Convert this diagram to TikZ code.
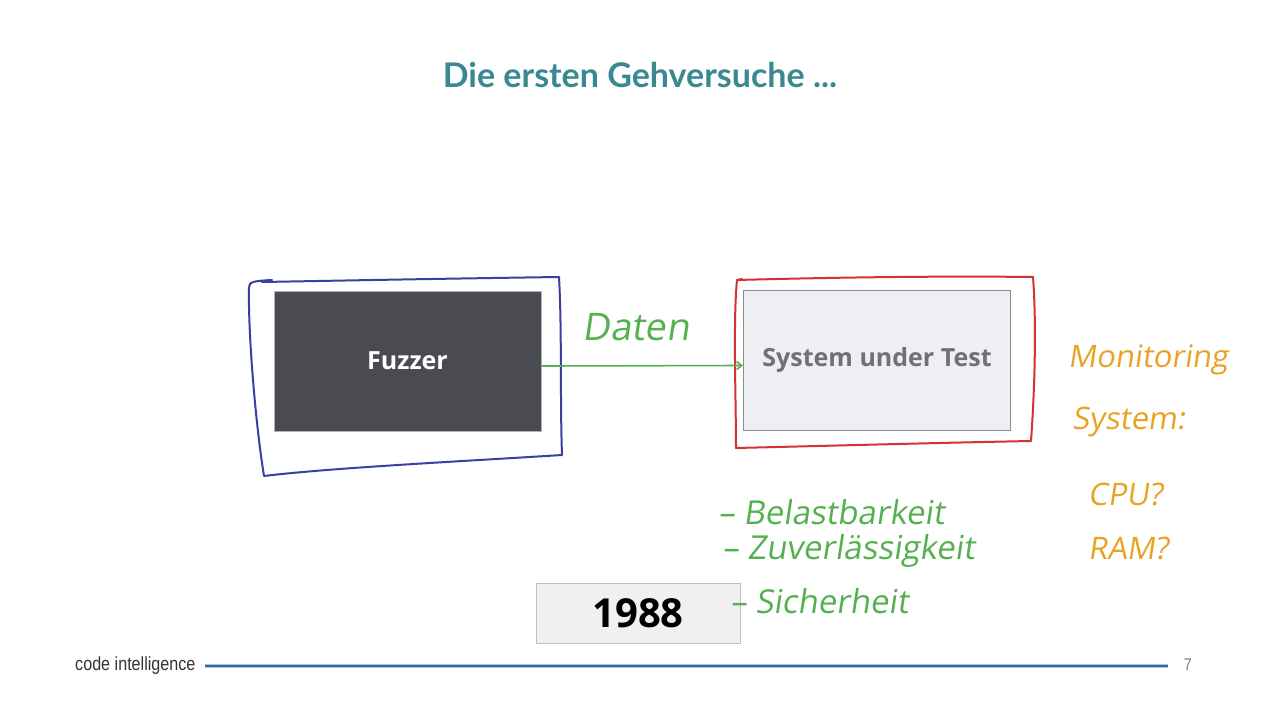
\documentclass[tikz,border=0pt]{standalone}
\usepackage{fontspec}
\setmainfont{Open Sans}
\newfontfamily\titlefont{Lato}
\newfontfamily\handfont[FakeSlant=0.15]{Open Sans}
\newfontfamily\footfont[FakeStretch=0.85]{Liberation Sans}
\usetikzlibrary{arrows.meta}

\definecolor{titleteal}{HTML}{3A8892}
\definecolor{fuzzgrey}{HTML}{4A4B50}
\definecolor{sutfill}{HTML}{EEEFF2}
\definecolor{suttext}{HTML}{707174}
\definecolor{penblue}{HTML}{3A3FA3}
\definecolor{penred}{HTML}{D62F34}
\definecolor{pengreen}{HTML}{55B04F}
\definecolor{penorange}{HTML}{E9A224}
\definecolor{footblue}{HTML}{2C6CA6}

\tikzset{
    block/.style={draw, rectangle, minimum width=267pt, minimum height=140pt,
        line width=1pt, font=\fontsize{25}{28}\selectfont\bfseries},
    pen/.style={line width=2pt, line join=round, line cap=round},
    hand/.style={font=\handfont\fontsize{33}{36}\selectfont, anchor=west, inner sep=0pt},
}

\begin{document}
\begin{tikzpicture}[x=1pt,y=-1pt]
    \useasboundingbox (0,0) rectangle (1280,720);
    \fill[white] (0,0) rectangle (1280,720);

    \node[text=titleteal, font=\titlefont\fontsize{34}{36}\selectfont\bfseries] (title) at (640,75) {Die ersten Gehversuche ...};

    \node[block, fill=fuzzgrey, draw=gray!60, text=white] (fuzzer) at (407.5,361) {Fuzzer};
    \node[block, fill=sutfill, draw=gray!90, text=suttext] (sut) at (877,360.5) {System under Test};
    \node[draw=gray!50, fill=gray!12, minimum width=204pt, minimum height=60pt,
        font=\fontsize{40}{44}\selectfont\bfseries] (year) at (638,613) {1988};

    \draw[pen, penblue] (262,282) .. controls (320,281) and (420,279) .. (559,277)
        .. controls (562,330) and (560,400) .. (562,455)
        .. controls (450,462) and (330,468) .. (264,476)
        .. controls (255,420) and (248,330) .. (249,288)
        .. controls (249,282) and (252,281) .. (272,280);
    \draw[pen, penred] (737,280) .. controls (850,277) and (950,276) .. (1033,277)
        .. controls (1037,330) and (1034,400) .. (1031,441)
        .. controls (930,443) and (820,446) .. (736,448)
        .. controls (736,400) and (733,320) .. (737,280) -- (742,279);

    \draw[pen, pengreen, line width=1.6pt, -{Straight Barb[length=5pt,width=8pt]}]
        ([yshift=-5pt]fuzzer.east) -- ([yshift=-5pt]sut.west);
    \node[text=pengreen, font=\handfont\fontsize{38}{40}\selectfont] (daten) at (636,327) {Daten};

    \node[hand, text=pengreen] (belast) at (718,512) {– Belastbarkeit};
    \node[hand, text=pengreen] (zuverl) at (722,551) {– Zuverlässigkeit};
    \node[hand, text=pengreen] (sicher) at (730,601) {– Sicherheit};

    \node[hand, text=penorange, font=\handfont\fontsize{31}{34}\selectfont] (monit) at (1068,360) {Monitoring};
    \node[hand, text=penorange, font=\handfont\fontsize{31}{34}\selectfont] (system) at (1072,422) {System:};
    \node[hand, text=penorange, font=\handfont\fontsize{31}{34}\selectfont] (cpu) at (1088,494) {CPU?};
    \node[hand, text=penorange, font=\handfont\fontsize{31}{34}\selectfont] (ram) at (1088,548) {RAM?};

    \node[text=black!80, font=\footfont\fontsize{19}{20}\selectfont, anchor=west, inner sep=0pt] (brand) at (75,666) {code intelligence};
    \node[text=gray, font=\footfont\fontsize{17}{18}\selectfont] (page) at (1188,665) {7};
    \coordinate (linestart) at (205,666);
    \coordinate (lineend) at (1168,666);
    \draw[footblue!40, line width=4pt] (linestart) -- (lineend);
    \draw[footblue, line width=2.4pt] (linestart) -- (lineend);
\end{tikzpicture}
\end{document}
